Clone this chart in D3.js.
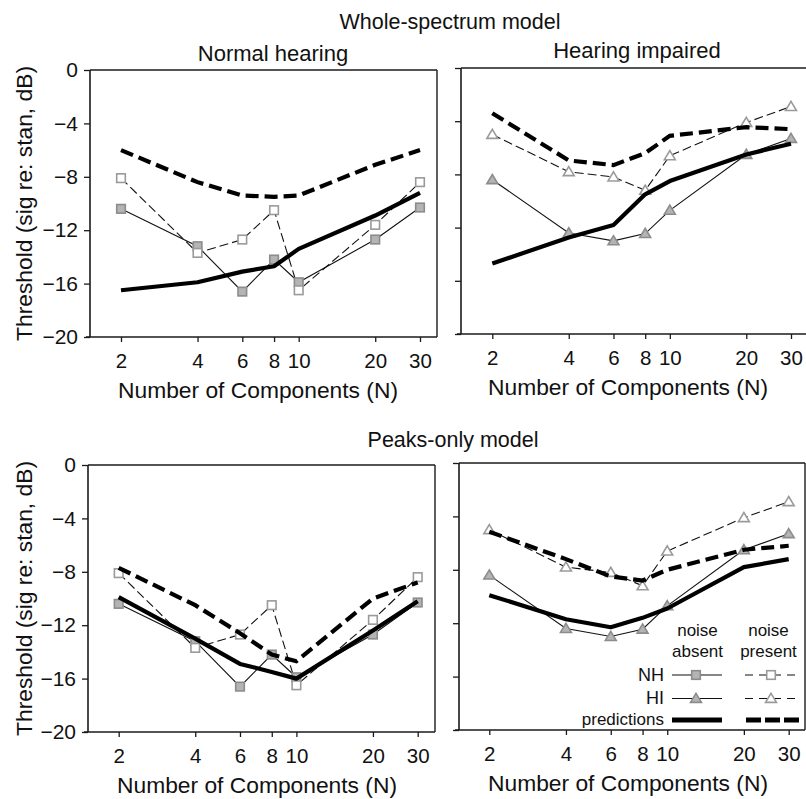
<!DOCTYPE html>
<html><head><meta charset="utf-8">
<script src="https://cdn.jsdelivr.net/npm/d3@7"></script>
<style>
html,body{margin:0;padding:0;background:#fff;}
svg text{font-family:"Liberation Sans",Arial,Helvetica,sans-serif;fill:#111;}
</style></head>
<body>
<svg id="chart" width="806" height="799"></svg>
<script>
// ---- data ----
const components = [2, 4, 6, 8, 10, 20, 30];
const xTickLabels = ["2", "4", "6", "8", "10", "20", "30"];
const yTicks = [0, -4, -8, -12, -16, -20];

const nhNoiseAbsent  = [-10.4, -13.2, -16.6, -14.2, -15.9, -12.7, -10.3];
const nhNoisePresent = [-8.1, -13.7, -12.7, -10.5, -16.5, -11.6, -8.4];
const hiNoiseAbsent  = [-8.4, -12.4, -13.0, -12.45, -10.7, -6.5, -5.3];
const hiNoisePresent = [-5.0, -7.8, -8.2, -9.2, -6.6, -4.1, -2.9];

const wholeNHPredAbsent  = [-16.5, -15.9, -15.1, -14.7, -13.4, -10.9, -9.2];
const wholeNHPredPresent = [-6.0, -8.4, -9.4, -9.5, -9.4, -7.1, -6.0];
const wholeHIPredAbsent  = [-14.7, -12.75, -11.8, -9.5, -8.5, -6.5, -5.7];
const wholeHIPredPresent = [-3.4, -6.95, -7.3, -6.4, -5.1, -4.45, -4.6];

const peaksNHPredAbsent  = [-9.9, -13.0, -14.9, -15.5, -16.0, -12.4, -10.2];
const peaksNHPredPresent = [-7.7, -10.5, -12.6, -14.2, -14.7, -10.0, -8.8];
const peaksHIPredAbsent  = [-9.9, -11.7, -12.3, -11.6, -10.9, -7.8, -7.2];
const peaksHIPredPresent = [-5.15, -7.2, -8.5, -8.8, -8.0, -6.5, -6.2];

const modelTitles = ["Whole-spectrum model", "Peaks-only model"];
const groupTitles = ["Normal hearing", "Hearing impaired"];
const yLabel = "Threshold (sig re: stan, dB)";
const xLabel = "Number of Components (N)";

// ---- layout ----
const panels = [
  {left: 90, right: 437, top: 70, bottom: 337, x2: 121, x30: 420, yLabels: true, rightBorder: true,
   marker: "square", absent: nhNoiseAbsent, present: nhNoisePresent, predA: wholeNHPredAbsent, predP: wholeNHPredPresent, xlabCx: 258},
  {left: 461, right: 806, top: 68, bottom: 334, x2: 492.3, x30: 791, yLabels: false, rightBorder: false,
   marker: "triangle", absent: hiNoiseAbsent, present: hiNoisePresent, predA: wholeHIPredAbsent, predP: wholeHIPredPresent, xlabCx: 628},
  {left: 88, right: 435, top: 465, bottom: 732, x2: 118.7, x30: 417.7, yLabels: true, rightBorder: true,
   marker: "square", absent: nhNoiseAbsent, present: nhNoisePresent, predA: peaksNHPredAbsent, predP: peaksNHPredPresent, xlabCx: 257},
  {left: 459, right: 805, top: 463, bottom: 730, x2: 489.3, x30: 788.7, yLabels: false, rightBorder: true,
   marker: "triangle", absent: hiNoiseAbsent, present: hiNoisePresent, predA: peaksHIPredAbsent, predP: peaksHIPredPresent, xlabCx: 628}
];

const svg = d3.select("#chart");
const AX = "#1a1a1a";

function drawMarker(g, type, x, y, filled) {
  const fill = filled ? "#b4b4b4" : "#ffffff";
  const stroke = filled ? "#8c8c8c" : "#9a9a9a";
  if (type === "square") {
    g.append("rect").attr("x", x - 4.3).attr("y", y - 4.3).attr("width", 8.6).attr("height", 8.6)
      .attr("fill", fill).attr("stroke", stroke).attr("stroke-width", 1.6);
  } else {
    const s = 5.2;
    g.append("path").attr("d", `M${x},${y - s}L${x + s * 1.05},${y + s * 0.75}L${x - s * 1.05},${y + s * 0.75}Z`)
      .attr("fill", fill).attr("stroke", stroke).attr("stroke-width", 1.6);
  }
}

panels.forEach((p, i) => {
  const g = svg.append("g");
  const x = d3.scaleLog().domain([2, 30]).range([p.x2, p.x30]);
  const y = d3.scaleLinear().domain([-20, 0]).range([p.bottom, p.top]);

  // frame
  g.append("line").attr("x1", p.left).attr("x2", p.left).attr("y1", p.top).attr("y2", p.bottom)
    .attr("stroke", AX).attr("stroke-width", 1.6);
  g.append("line").attr("x1", p.left - 4).attr("x2", p.right).attr("y1", p.bottom).attr("y2", p.bottom)
    .attr("stroke", AX).attr("stroke-width", 1.6);
  g.append("line").attr("x1", p.left).attr("x2", p.right).attr("y1", p.top).attr("y2", p.top)
    .attr("stroke", AX).attr("stroke-width", 1.6);
  if (p.rightBorder) {
    g.append("line").attr("x1", p.right).attr("x2", p.right).attr("y1", p.top).attr("y2", p.bottom)
      .attr("stroke", AX).attr("stroke-width", 1.4);
  }

  // y axis
  const yAxis = d3.axisLeft(y).tickValues(yTicks).tickSize(6).tickPadding(6)
    .tickFormat(p.yLabels ? d3.format("d") : () => "");
  const ya = g.append("g").attr("transform", `translate(${p.left},0)`).call(yAxis);
  ya.select(".domain").remove();
  ya.selectAll(".tick line").attr("stroke", AX).attr("stroke-width", 1.3);
  ya.selectAll(".tick text").attr("font-size", 21).attr("font-family", "Liberation Sans, Arial, sans-serif").attr("fill", "#111");

  // x axis
  const xAxis = d3.axisBottom(x).tickValues(components).tickSize(5).tickPadding(11)
    .tickFormat((d, k) => xTickLabels[k]);
  const xa = g.append("g").attr("transform", `translate(0,${p.bottom})`).call(xAxis);
  xa.select(".domain").remove();
  xa.selectAll(".tick line").attr("stroke", AX).attr("stroke-width", 1.3);
  xa.selectAll(".tick text").attr("font-size", 20.5).attr("font-family", "Liberation Sans, Arial, sans-serif").attr("fill", "#111");

  g.append("text").attr("x", p.xlabCx).attr("y", p.bottom + 61).attr("text-anchor", "middle")
    .attr("font-size", 22.8).text(xLabel);

  if (p.yLabels) {
    const cy = (p.top + p.bottom) / 2;
    g.append("text").attr("transform", `translate(32,${cy}) rotate(-90)`).attr("text-anchor", "middle")
      .attr("font-size", 22.8).text(yLabel);
  }

  const line = d3.line().x((d, k) => x(components[k])).y(d => y(d));

  // data lines
  g.append("path").datum(p.absent).attr("d", line).attr("fill", "none").attr("stroke", "#111").attr("stroke-width", 1.1);
  g.append("path").datum(p.present).attr("d", line).attr("fill", "none").attr("stroke", "#111").attr("stroke-width", 1.1)
    .attr("stroke-dasharray", "9,4");

  // markers
  p.absent.forEach((v, k) => drawMarker(g, p.marker, x(components[k]), y(v), true));
  p.present.forEach((v, k) => drawMarker(g, p.marker, x(components[k]), y(v), false));

  // predictions
  g.append("path").datum(p.predA).attr("d", line).attr("fill", "none").attr("stroke", "#000").attr("stroke-width", 4.2)
    .attr("stroke-linejoin", "round");
  g.append("path").datum(p.predP).attr("d", line).attr("fill", "none").attr("stroke", "#000").attr("stroke-width", 4.2)
    .attr("stroke-dasharray", "13,6");
});

// titles
svg.append("text").attr("x", 450).attr("y", 29).attr("text-anchor", "middle").attr("font-size", 21.5).text(modelTitles[0]);
svg.append("text").attr("x", 453).attr("y", 447).attr("text-anchor", "middle").attr("font-size", 21.5).text(modelTitles[1]);
svg.append("text").attr("x", 273).attr("y", 61).attr("text-anchor", "middle").attr("font-size", 22).text(groupTitles[0]);
svg.append("text").attr("x", 637).attr("y", 58).attr("text-anchor", "middle").attr("font-size", 22).text(groupTitles[1]);

// legend
const lg = svg.append("g");
const lf = 17;
lg.append("text").attr("x", 697.5).attr("y", 636).attr("text-anchor", "middle").attr("font-size", lf).text("noise");
lg.append("text").attr("x", 697.5).attr("y", 657).attr("text-anchor", "middle").attr("font-size", lf).text("absent");
lg.append("text").attr("x", 768.5).attr("y", 636).attr("text-anchor", "middle").attr("font-size", lf).text("noise");
lg.append("text").attr("x", 768.5).attr("y", 657).attr("text-anchor", "middle").attr("font-size", lf).text("present");
const legRows = [
  {label: "NH", y: 675, marker: "square"},
  {label: "HI", y: 698.5, marker: "triangle"}
];
legRows.forEach(r => {
  lg.append("text").attr("x", 664).attr("y", r.y + 5.5).attr("text-anchor", "end").attr("font-size", 18).text(r.label);
  lg.append("line").attr("x1", 672).attr("x2", 722).attr("y1", r.y).attr("y2", r.y).attr("stroke", "#111").attr("stroke-width", 1.1);
  lg.append("line").attr("x1", 745).attr("x2", 799).attr("y1", r.y).attr("y2", r.y).attr("stroke", "#111").attr("stroke-width", 1.1)
    .attr("stroke-dasharray", "8,6");
  drawMarker(lg, r.marker, 696, r.y, true);
  drawMarker(lg, r.marker, 771, r.y, false);
});
lg.append("text").attr("x", 664).attr("y", 725).attr("text-anchor", "end").attr("font-size", lf).text("predictions");
lg.append("line").attr("x1", 672).attr("x2", 722).attr("y1", 720).attr("y2", 720).attr("stroke", "#000").attr("stroke-width", 5);
lg.append("line").attr("x1", 746).attr("x2", 799).attr("y1", 720).attr("y2", 720).attr("stroke", "#000").attr("stroke-width", 5)
  .attr("stroke-dasharray", "15,4");
</script>
</body></html>
